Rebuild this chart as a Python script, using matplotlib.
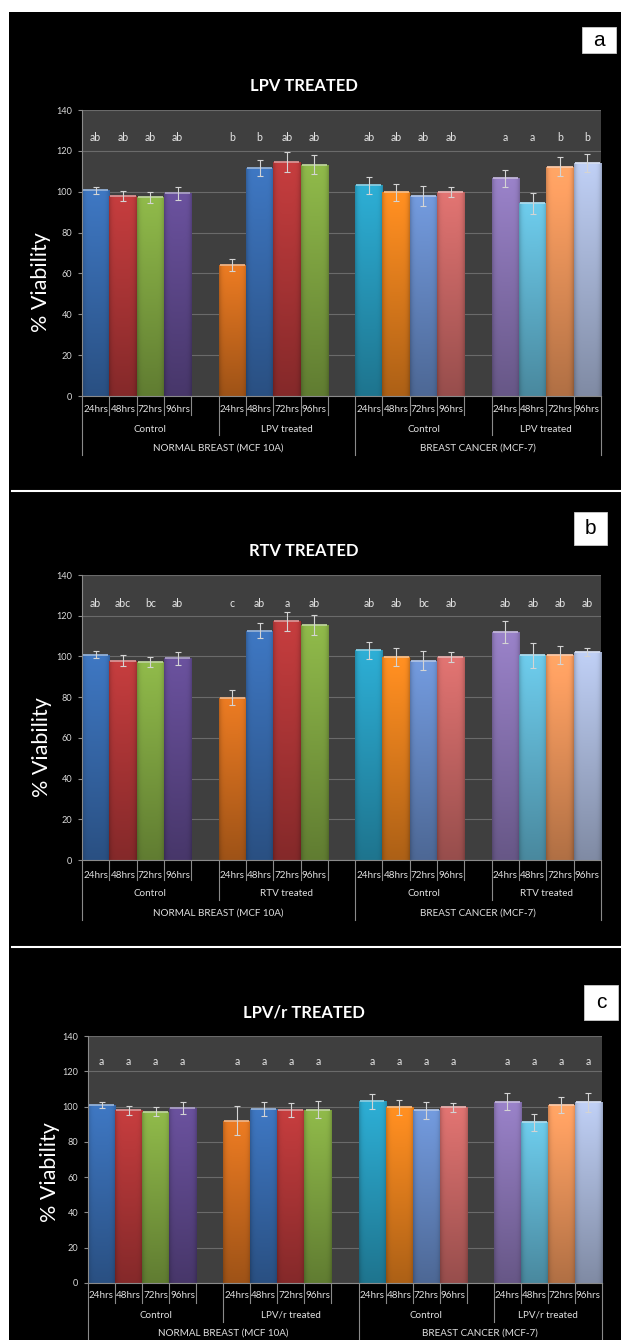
import numpy as np
import matplotlib
matplotlib.use('Agg')
import matplotlib.pyplot as plt
from matplotlib.colors import to_rgb
from matplotlib.patches import Rectangle
from matplotlib.transforms import blended_transform_factory

plt.rcParams['font.family'] = ['Lato', 'DejaVu Sans']

W, H = 621, 1340

# ---- data -------------------------------------------------------------
hours = ['24hrs', '48hrs', '72hrs', '96hrs']
cell_lines = ['NORMAL BREAST (MCF 10A)', 'BREAST CANCER (MCF-7)']
titles = ['LPV TREATED', 'RTV TREATED', 'LPV/r TREATED']
panel_tags = ['a', 'b', 'c']
treat_names = ['LPV treated', 'RTV treated', 'LPV/r treated']

# order: normal control, normal treated, cancer control, cancer treated (24/48/72/96 hrs)
lpv_mean = [100.8, 98.0, 97.2, 99.2, 64.2, 111.6, 114.6, 113.3,
            103.1, 99.7, 97.9, 99.7, 106.5, 94.3, 112.3, 114.2]
lpv_err = [1.7, 2.5, 2.6, 3.2, 2.9, 3.7, 5.0, 4.5,
           4.2, 4.3, 4.7, 2.5, 4.1, 5.2, 4.5, 4.4]
lpv_letters = ['ab', 'ab', 'ab', 'ab', 'b', 'b', 'ab', 'ab',
               'ab', 'ab', 'ab', 'ab', 'a', 'a', 'b', 'b']

rtv_mean = [100.8, 98.0, 97.2, 99.2, 79.7, 112.7, 117.2, 115.4,
            103.1, 99.7, 97.9, 99.7, 111.8, 100.5, 100.7, 102.2]
rtv_err = [1.7, 2.5, 2.6, 3.2, 3.7, 3.7, 4.5, 5.0,
           4.2, 4.3, 4.7, 2.5, 5.4, 6.2, 4.2, 2.0]
rtv_letters = ['ab', 'abc', 'bc', 'ab', 'c', 'ab', 'a', 'ab',
               'ab', 'ab', 'bc', 'ab', 'ab', 'ab', 'ab', 'ab']

lpvr_mean = [100.8, 98.0, 97.2, 99.2, 92.1, 98.7, 97.9, 98.3,
             103.1, 99.7, 97.9, 99.7, 102.8, 91.0, 101.1, 102.4]
lpvr_err = [1.7, 2.5, 2.6, 3.2, 8.0, 3.9, 4.0, 4.7,
            4.2, 4.3, 4.7, 2.5, 4.9, 4.7, 4.6, 5.3]
lpvr_letters = ['a'] * 16

bar_colors = ['#3a6fb5', '#b8393a', '#86ad45', '#634c93',
              '#dc7320', '#3a6fb5', '#b8393a', '#86ad45',
              '#2aa2c6', '#f0861f', '#6b90cf', '#d26c6a',
              '#8f79bb', '#66bedc', '#f59b5f', '#b2c1e4']

means = [lpv_mean, rtv_mean, lpvr_mean]
errs = [lpv_err, rtv_err, lpvr_err]
letters = [lpv_letters, rtv_letters, lpvr_letters]

# ---- layout (pixels) --------------------------------------------------
layout = [
    dict(plot=(82, 110, 601, 396), title_y=86, tag=(582, 27, 616, 53), ylab=(41, 282),
         rows=(409, 429, 448), bottoms=(415, 435, 455), letter_y=126.5),
    dict(plot=(82, 575, 601, 860), title_y=551, tag=(574, 512, 607, 545), ylab=(42, 747),
         rows=(875, 894, 913), bottoms=(880, 900, 920), letter_y=126),
    dict(plot=(88, 1036, 602, 1283), title_y=1013, tag=(584, 985, 618, 1020), ylab=(50, 1172),
         rows=(1296, 1315, 1333), bottoms=(1303, 1322, 1340), letter_y=125.5),
]

fig = plt.figure(figsize=(W / 100, H / 100), dpi=100, facecolor='white')

def fx(x):
    return x / W

def fy(y):
    return 1 - y / H

# black background and white separators
bg = Rectangle((fx(9), 0), 1 - fx(9), fy(12), transform=fig.transFigure,
               facecolor='black', edgecolor='none', zorder=-10)
fig.add_artist(bg)
for ysep in (491, 947):
    fig.add_artist(plt.Line2D([fx(12), 1], [fy(ysep), fy(ysep)], transform=fig.transFigure,
                              color='white', lw=1.5, zorder=-5))

xpos = [g * 5 + h for g in range(4) for h in range(4)]

def shade_bar(ax, patch, color):
    x0, w, h = patch.get_x(), patch.get_width(), patch.get_height()
    base = np.array(to_rgb(color))
    v = np.linspace(1.08, 0.72, 80)[:, None]
    u = np.linspace(-1, 1, 24)
    hf = 1 - 0.18 * u ** 6
    img = np.clip(base[None, None, :] * v[:, :, None] * hf[None, :, None], 0, 1)
    im = ax.imshow(img, extent=(x0, x0 + w, 0, h), aspect='auto', origin='upper',
                   zorder=2.1, interpolation='bilinear')
    im.set_clip_path(patch)

for p in range(3):
    L = layout[p]
    x0, y0, x1, y1 = L['plot']
    ax = fig.add_axes([fx(x0), fy(y1), fx(x1) - fx(x0), fy(y0) - fy(y1)])
    ax.set_facecolor('#3f3f3f')

    bars = ax.bar(xpos, means[p], width=1.0, color=bar_colors,
                  edgecolor='#2a2a2a', linewidth=0.4, zorder=2)
    for b, c in zip(bars, bar_colors):
        shade_bar(ax, b, c)
    light = [tuple(0.55 * np.array(to_rgb(c)) + 0.45) for c in bar_colors]
    ax.hlines(means[p], np.array(xpos) - 0.46, np.array(xpos) + 0.46,
              colors=light, lw=1.3, zorder=2.2)
    ax.errorbar(xpos, means[p], yerr=errs[p], fmt='none', ecolor='#d4d4d4',
                elinewidth=0.8, capsize=2.3, capthick=0.8, zorder=3)
    for x, t in zip(xpos, letters[p]):
        ax.text(x, L['letter_y'], t, ha='center', va='center', color='#e6e6e6',
                fontsize=7.6, zorder=4)

    ax.set_xlim(-0.5, 18.5)
    ax.set_ylim(0, 140)
    ax.set_yticks(range(0, 141, 20))
    ax.set_xticks([])
    ax.yaxis.grid(True, color='#6a6a6a', lw=0.8)
    ax.set_axisbelow(True)
    ax.tick_params(axis='y', colors='#8a8a8a', labelcolor='#d9d9d9', labelsize=6.6,
                   length=3, width=0.8, pad=4)
    for s in ('top', 'right'):
        ax.spines[s].set_visible(False)
    for s in ('left', 'bottom'):
        ax.spines[s].set_color('#8a8a8a')
        ax.spines[s].set_linewidth(0.8)

    # multi-level category axis
    tr = blended_transform_factory(ax.transData, fig.transFigure)
    for x, hname in zip(xpos, hours * 4):
        ax.text(x, fy(L['rows'][0]), hname, transform=tr, ha='center', va='center',
                color='#e0e0e0', fontsize=7.1, clip_on=False)
    group_names = ['Control', treat_names[p], 'Control', treat_names[p]]
    group_centers = [2, 7, 12, 16.5]
    for x, gname in zip(group_centers, group_names):
        ax.text(x, fy(L['rows'][1]), gname, transform=tr, ha='center', va='center',
                color='#e0e0e0', fontsize=7.1, clip_on=False)
    for x, cname in zip([4.5, 14], cell_lines):
        ax.text(x, fy(L['rows'][2]), cname, transform=tr, ha='center', va='center',
                color='#e0e0e0', fontsize=7.1, clip_on=False)
    for k in range(20):
        if k in (0, 10, 19):
            yb = L['bottoms'][2]
        elif k in (5, 15):
            yb = L['bottoms'][1]
        else:
            yb = L['bottoms'][0]
        ax.plot([k - 0.5, k - 0.5], [fy(y1), fy(yb)], transform=tr, color='#8a8a8a',
                lw=0.8, clip_on=False)

    # title, y label, tag box
    fig.text(fx(304), fy(L['title_y']), titles[p], ha='center', va='center',
             color='white', fontsize=11.9, fontweight='bold')
    fig.text(fx(L['ylab'][0]), fy(L['ylab'][1]), '% Viability', rotation=90,
             ha='center', va='center', color='white', fontsize=15.5)
    tx0, ty0, tx1, ty1 = L['tag']
    fig.add_artist(Rectangle((fx(tx0), fy(ty1)), fx(tx1) - fx(tx0), fy(ty0) - fy(ty1),
                             transform=fig.transFigure, facecolor='white',
                             edgecolor='#cccccc', lw=0.6, zorder=1))
    fig.text(fx((tx0 + tx1) / 2), fy((ty0 + ty1) / 2), panel_tags[p], ha='center',
             va='center', color='black', fontsize=15, zorder=2,
             family=['Liberation Sans Narrow', 'Liberation Sans', 'DejaVu Sans'])

fig.savefig('out.png', dpi=100, facecolor='white')
